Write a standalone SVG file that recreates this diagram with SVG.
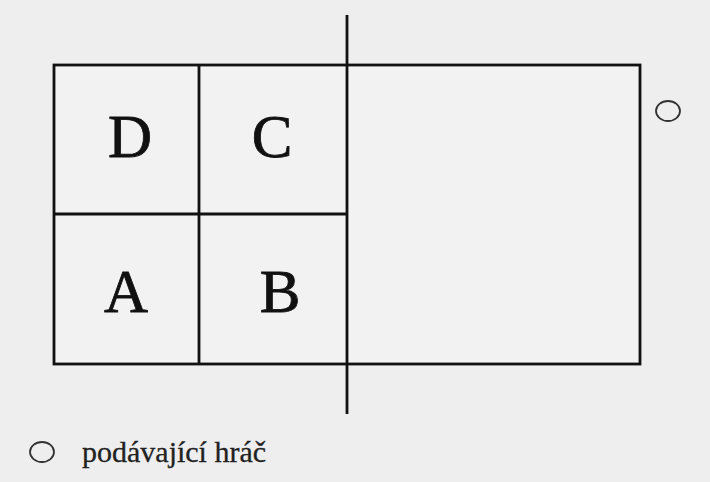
<svg xmlns="http://www.w3.org/2000/svg" width="710" height="482" viewBox="0 0 710 482">
<style>
.ln{stroke:#111;stroke-width:2.8;fill:none}
.lt{font-family:"Liberation Serif","Times New Roman",serif;font-size:61px;fill:#111;stroke:#111;stroke-width:0.8;text-anchor:middle}
.pl{fill:none;stroke:#333;stroke-width:1.8}
.lg{font-family:"Liberation Serif","Times New Roman",serif;font-size:30px;fill:#222;stroke:#222;stroke-width:0.3}
</style>
<rect width="710" height="482" fill="#eeeeee"/>
<rect x="54" y="65" width="586" height="299" fill="#f2f2f2"/>
<g id="court">
<rect class="ln" x="54" y="65" width="586" height="299"/>
<line class="ln" x1="199" y1="65" x2="199" y2="364"/>
<line class="ln" x1="54" y1="214" x2="347" y2="214"/>
<line class="ln" x1="347" y1="15" x2="347" y2="414"/>
</g>
<g id="D"><text class="lt" x="130" y="157">D</text></g>
<g id="C"><text class="lt" x="272" y="157">C</text></g>
<g id="A"><text class="lt" x="126" y="312">A</text></g>
<g id="B"><text class="lt" x="280" y="312">B</text></g>
<g id="server"><ellipse class="pl" cx="668" cy="111" rx="12" ry="10"/></g>
<g id="legend">
<ellipse class="pl" cx="42" cy="452" rx="12" ry="10"/>
<text class="lg" x="82" y="462">podávající hráč</text>
</g>
</svg>
